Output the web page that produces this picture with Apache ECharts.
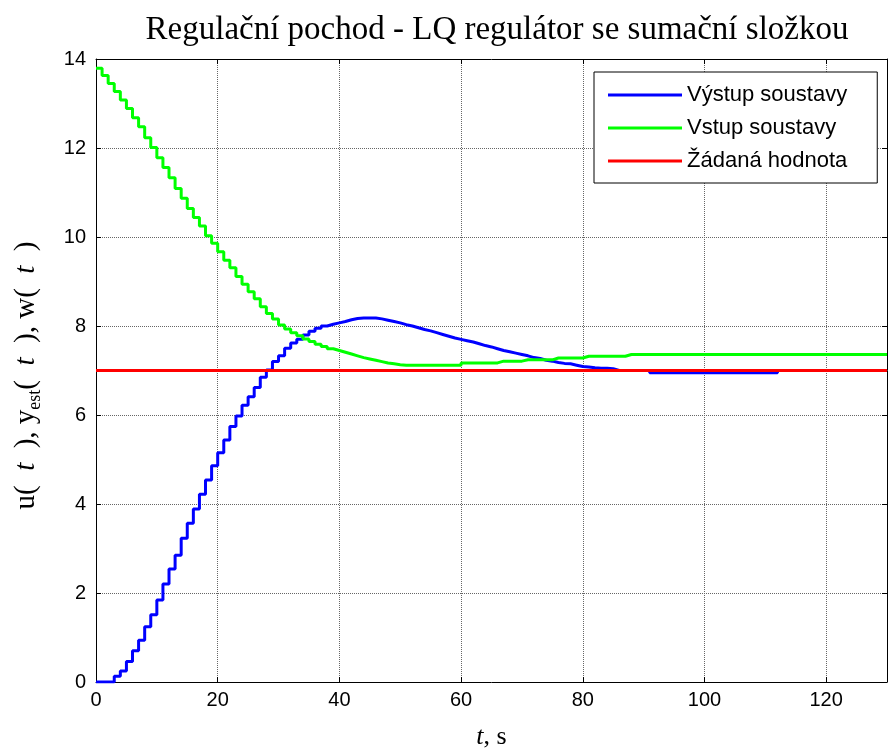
<!DOCTYPE html>
<html>
<head>
<meta charset="utf-8">
<title>Regulační pochod</title>
<script src="https://cdn.jsdelivr.net/npm/echarts@6/dist/echarts.min.js"></script>
<style>
  html, body { margin: 0; padding: 0; background: #fff; }
  #chart { width: 888px; height: 752px; }
</style>
</head>
<body>
<div id="chart"></div>
<script>
// sample time of the discrete loop, s
const Ts = 1

// y(t) - vystup soustavy, one value per sample (t = 0..130)
const vystup = [
  0, 0, 0, 0.13, 0.25, 0.46, 0.70, 0.94, 1.24, 1.51,
  1.84, 2.20, 2.54, 2.85, 3.23, 3.57, 3.89, 4.22, 4.54, 4.86,
  5.15, 5.44, 5.74, 5.98, 6.22, 6.41, 6.62, 6.85, 7.01, 7.20,
  7.33, 7.50, 7.62, 7.70, 7.80, 7.88, 7.95, 8.00, 8.04, 8.07,
  8.10, 8.14, 8.17, 8.18, 8.18, 8.18, 8.16, 8.13, 8.10, 8.07,
  8.03, 8.00, 7.96, 7.92, 7.89, 7.85, 7.81, 7.77, 7.73, 7.70,
  7.67, 7.64, 7.60, 7.56, 7.53, 7.49, 7.45, 7.42, 7.39, 7.36,
  7.33, 7.29, 7.27, 7.23, 7.21, 7.18, 7.16, 7.15, 7.12, 7.09,
  7.08, 7.06, 7.05, 7.05, 7.04, 7.00, 7.00, 7.00, 7.00, 7.00,
  7.00, 6.95, 6.95, 6.95, 6.95, 6.95, 6.95, 6.95, 6.95, 6.95,
  6.95, 6.95, 6.95, 6.95, 6.95, 6.95, 6.95, 6.95, 6.95, 6.95,
  6.95, 6.95, 7.00, 7.00, 7.00, 7.00, 7.00, 7.00, 7.00, 7.00,
  7.00, 7.00, 7.00, 7.00, 7.00, 7.00, 7.00, 7.00, 7.00, 7.00,
  7.00
]

// u(t) - vstup soustavy (akcni zasah)
const vstup = [
  13.79, 13.63, 13.45, 13.27, 13.08, 12.89, 12.68, 12.48, 12.23, 12.01,
  11.78, 11.56, 11.33, 11.09, 10.87, 10.64, 10.44, 10.25, 10.03, 9.86,
  9.67, 9.48, 9.31, 9.11, 8.94, 8.77, 8.61, 8.43, 8.28, 8.16,
  8.02, 7.93, 7.85, 7.78, 7.71, 7.65, 7.59, 7.54, 7.49, 7.45,
  7.41, 7.37, 7.33, 7.29, 7.26, 7.23, 7.20, 7.17, 7.15, 7.13,
  7.12, 7.12, 7.12, 7.12, 7.12, 7.12, 7.12, 7.12, 7.12, 7.12,
  7.17, 7.17, 7.17, 7.17, 7.17, 7.17, 7.21, 7.21, 7.21, 7.21,
  7.24, 7.24, 7.24, 7.24, 7.24, 7.28, 7.28, 7.28, 7.28, 7.28,
  7.32, 7.32, 7.32, 7.32, 7.32, 7.32, 7.32, 7.36, 7.36, 7.36,
  7.36, 7.36, 7.36, 7.36, 7.36, 7.36, 7.36, 7.36, 7.36, 7.36,
  7.36, 7.36, 7.36, 7.36, 7.36, 7.36, 7.36, 7.36, 7.36, 7.36,
  7.36, 7.36, 7.36, 7.36, 7.36, 7.36, 7.36, 7.36, 7.36, 7.36,
  7.36, 7.36, 7.36, 7.36, 7.36, 7.36, 7.36, 7.36, 7.36, 7.36,
  7.36
]

// w(t) - zadana hodnota
const zadanaT = [0, 130]
const zadana = [7, 7]

const xTicks = [0, 130, 20]   // min, max, interval
const yTicks = [0, 14, 2]

const seriesNames = ['Výstup soustavy', 'Vstup soustavy', 'Žádaná hodnota']

const toPairs = (arr) => arr.map((v, i) => [i * Ts, v])

const myChart = echarts.init(document.getElementById('chart'))

const sans = 'Liberation Sans, Arial, sans-serif'
const serif = 'Liberation Serif, Times New Roman, serif'

const tickStyle = {
  show: true,
  inside: true,
  length: 5,
  lineStyle: { color: '#000', width: 1 }
}

const option = {
  animation: false,
  backgroundColor: '#fff',
  title: {
    text: 'Regulační pochod - LQ regulátor se sumační složkou',
    left: 492,
    textAlign: 'center',
    top: 9,
    textStyle: {
      fontFamily: serif,
      fontWeight: 'normal',
      fontSize: 33,
      color: '#000'
    }
  },
  legend: {
    data: seriesNames,
    orient: 'vertical',
    left: 594,
    top: 72,
    padding: [12, 30, 11, 14],
    itemGap: 11,
    itemWidth: 74,
    itemHeight: 3,
    icon: 'rect',
    borderColor: '#000',
    borderWidth: 1,
    backgroundColor: '#fff',
    textStyle: {
      fontFamily: sans,
      fontSize: 22,
      lineHeight: 22,
      color: '#000'
    }
  },
  grid: {
    left: 96,
    right: 1,
    top: 59,
    bottom: 70,
    outerBoundsMode: 'none'
  },
  xAxis: [
    {
      type: 'value',
      min: xTicks[0],
      max: xTicks[1],
      interval: xTicks[2],
      name: '{i|t}{n|, s}',
      nameLocation: 'middle',
      nameGap: 42,
      nameTextStyle: {
        rich: {
          i: { fontFamily: serif, fontStyle: 'italic', fontSize: 26, color: '#000' },
          n: { fontFamily: serif, fontSize: 26, color: '#000' }
        }
      },
      axisLine: { onZero: false, lineStyle: { color: '#000', width: 1 } },
      axisTick: tickStyle,
      axisLabel: {
        showMaxLabel: false,
        margin: 8,
        fontFamily: sans,
        fontSize: 20,
        color: '#000'
      },
      splitLine: {
        show: true,
        lineStyle: { color: '#666', type: 'dotted', width: 1 }
      }
    },
    {
      type: 'value',
      position: 'top',
      min: xTicks[0],
      max: xTicks[1],
      interval: xTicks[2],
      axisLine: { onZero: false, lineStyle: { color: '#000', width: 1 } },
      axisTick: tickStyle,
      axisLabel: { show: false },
      splitLine: { show: false }
    }
  ],
  yAxis: [
    {
      type: 'value',
      min: yTicks[0],
      max: yTicks[1],
      interval: yTicks[2],
      name: '{n|u(  }{i|t}{n|  ), y}{s|est}{n|(  }{i|t}{n|  ), w(  }{i|t}{n|  )}',
      nameLocation: 'middle',
      nameRotate: 90,
      nameGap: 52,
      nameTextStyle: {
        padding: [0, 10, 0, 0],
        rich: {
          n: { fontFamily: serif, fontSize: 29, lineHeight: 36, color: '#000' },
          i: { fontFamily: serif, fontStyle: 'italic', fontSize: 29, lineHeight: 36, color: '#000' },
          s: { fontFamily: serif, fontSize: 18, verticalAlign: 'bottom', color: '#000' }
        }
      },
      axisLine: { onZero: false, lineStyle: { color: '#000', width: 1 } },
      axisTick: tickStyle,
      axisLabel: {
        margin: 10,
        fontFamily: sans,
        fontSize: 20,
        color: '#000'
      },
      splitLine: {
        show: true,
        lineStyle: { color: '#666', type: 'dotted', width: 1 }
      }
    },
    {
      type: 'value',
      position: 'right',
      min: yTicks[0],
      max: yTicks[1],
      interval: yTicks[2],
      axisLine: { onZero: false, lineStyle: { color: '#000', width: 1 } },
      axisTick: tickStyle,
      axisLabel: { show: false },
      splitLine: { show: false }
    }
  ],
  series: [
    {
      name: seriesNames[0],
      type: 'line',
      step: 'end',
      showSymbol: false,
      color: '#0000ff',
      lineStyle: { color: '#0000ff', width: 3 },
      data: toPairs(vystup)
    },
    {
      name: seriesNames[1],
      type: 'line',
      step: 'end',
      showSymbol: false,
      color: '#00ff00',
      lineStyle: { color: '#00ff00', width: 3 },
      data: toPairs(vstup)
    },
    {
      name: seriesNames[2],
      type: 'line',
      showSymbol: false,
      color: '#ff0000',
      lineStyle: { color: '#ff0000', width: 3 },
      data: zadanaT.map((t, i) => [t, zadana[i]])
    }
  ]
}

option && myChart.setOption(option)
</script>
</body>
</html>
